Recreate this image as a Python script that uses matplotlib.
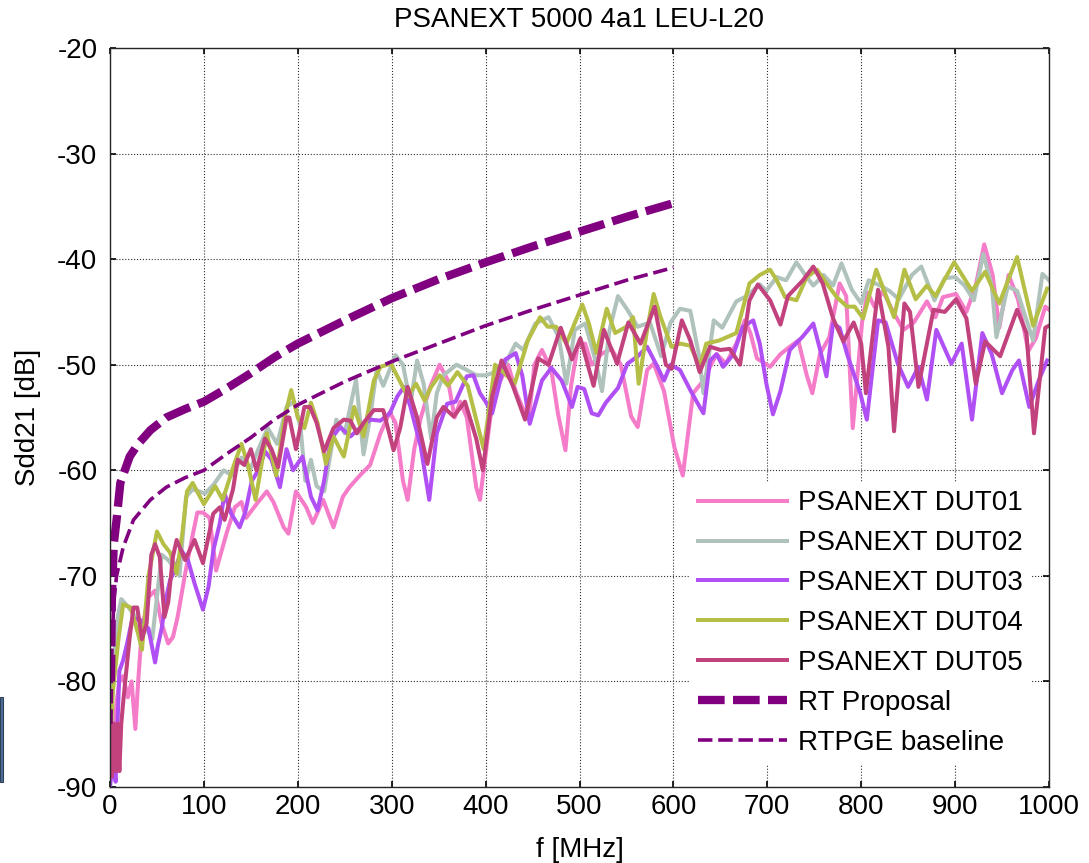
import matplotlib
matplotlib.use("Agg")
import matplotlib.pyplot as plt
from matplotlib.patches import Rectangle

plt.rcParams['font.family'] = ['Liberation Sans', 'DejaVu Sans']
plt.rcParams['axes.unicode_minus'] = False

# ---------------- data ----------------
title = "PSANEXT 5000 4a1 LEU-L20"
x_label = "f [MHz]"
y_label = "Sdd21 [dB]"
x_ticks = [0, 100, 200, 300, 400, 500, 600, 700, 800, 900, 1000]
y_ticks = [-90, -80, -70, -60, -50, -40, -30, -20]

labels = ["PSANEXT DUT01", "PSANEXT DUT02", "PSANEXT DUT03",
          "PSANEXT DUT04", "PSANEXT DUT05", "RT Proposal", "RTPGE baseline"]

f_dut01 = [0, 2, 7, 10, 14, 19, 23, 27, 30, 34, 41, 48, 55, 62, 67, 72, 80, 87, 93, 99,
           106, 113, 124, 133, 140, 145, 156, 167, 174, 185, 190, 198, 209, 216, 227, 238, 248, 255, 266, 277,
           288, 298, 304, 312, 317, 324, 331, 341, 351, 360, 367, 373, 380, 390, 394, 405, 414, 424, 432, 439,
           446, 452, 460, 470, 477, 485, 491, 498, 506, 513, 523, 534, 544, 555, 562, 572, 579, 590, 601, 610,
           621, 632, 639, 646, 656, 667, 676, 682, 689, 703, 714, 724, 733, 742, 748, 756, 766, 777, 784, 791,
           801, 807, 814, 823, 834, 845, 856, 870, 879, 887, 901, 912, 922, 931, 940, 947, 957, 967, 978, 986,
           996, 1000]
s_dut01 = [-88, -87, -82, -80, -79.5, -81.5, -80, -84.5, -80, -75, -72, -71.4, -74.5, -76.4, -75.8, -73.9, -69.8, -66.6, -64, -64,
           -64.5, -69.5, -66, -63.5, -63, -64.5, -63.2, -62, -63, -65.4, -66, -62, -63.5, -65, -62.8, -65.4, -62.5, -61.6, -60.5, -59.5,
           -56.5, -54.5, -55.5, -61, -62.8, -58, -55, -52.1, -50, -51.5, -55, -53.5, -55, -61.6, -62.8, -55, -51.8, -50, -52.5, -54,
           -55.2, -50, -48.6, -50.5, -54.6, -58.1, -52, -48.3, -48, -50, -49, -48.5, -50, -54.9, -55.9, -50.5, -49.9, -52.5, -57.8, -60.5,
           -52.7, -51.5, -50.2, -49, -49.9, -48, -45.8, -47, -49.4, -50.2, -49, -48.3, -47.7, -51, -52.7, -49, -47.4, -42.3, -43.5, -56,
           -45.9, -43.2, -44.5, -43, -45, -46.7, -46, -44, -45.5, -43.6, -43.3, -45, -42.5, -38.6, -41.5, -46.5, -41.5, -43.8, -48.7, -47.5,
           -44.5, -44.8]

f_dut02 = [0, 4, 8, 12, 20, 28, 37, 45, 50, 55, 62, 68, 74, 81, 88, 95, 101, 110, 121, 130,
           140, 149, 158, 168, 178, 188, 196, 203, 208, 214, 220, 228, 241, 250, 262, 270, 277, 284, 291, 304,
           312, 320, 327, 334, 342, 348, 355, 369, 380, 390, 400, 407, 421, 432, 440, 453, 467, 478, 486, 495,
           506, 517, 524, 532, 541, 551, 562, 575, 587, 597, 607, 618, 627, 632, 643, 652, 667, 678, 692, 699,
           710, 720, 731, 742, 749, 760, 770, 779, 790, 800, 808, 820, 830, 840, 854, 864, 878, 889, 900, 910,
           920, 930, 939, 944, 956, 966, 983, 993, 1000]
s_dut02 = [-87, -78, -74, -72.2, -73, -74, -74.7, -76, -72, -68, -68.5, -69.2, -70, -62.5, -61.8, -62, -62.2, -61.4, -60, -60.5,
           -58.8, -60, -58, -56, -57.5, -54, -53.5, -56, -61, -59, -61.5, -62, -55.2, -56.5, -51.4, -58.5, -55, -50.5, -52, -49.1,
           -50, -53.7, -49.6, -51.8, -57, -52.7, -51, -50, -50.5, -51, -51, -50.8, -49.9, -48, -48.6, -46.1, -45.5, -47.4, -51.8, -46.7,
           -46.1, -49.6, -52.5, -46.7, -43.5, -44.8, -46.4, -46, -49.2, -46, -44.7, -44.9, -49, -52.7, -45.8, -46.5, -44, -43.5, -42.4, -43,
           -41.7, -42, -40.3, -41.7, -42.5, -41.5, -42.5, -40.4, -42.9, -44.2, -42, -42.5, -43, -43.8, -41.5, -40.7, -43.9, -41.8, -41.7, -42.5,
           -43.9, -39.5, -42.5, -47.4, -42.6, -43, -47.7, -41.4, -42]

f_dut03 = [0, 3, 6, 8, 10, 14, 18, 23, 30, 36, 41, 48, 51, 55, 60, 64, 69, 76, 83, 90,
           99, 105, 110, 117, 122, 129, 138, 144, 151, 158, 165, 172, 181, 188, 195, 205, 214, 221, 228, 235,
           245, 256, 266, 277, 288, 298, 306, 313, 320, 331, 340, 348, 359, 368, 380, 387, 394, 400, 407, 421,
           432, 439, 447, 460, 470, 481, 492, 498, 505, 513, 520, 528, 541, 551, 562, 572, 583, 590, 597, 607,
           618, 628, 632, 639, 646, 653, 664, 674, 685, 692, 699, 706, 714, 724, 738, 749, 756, 763, 770, 777,
           785, 799, 806, 818, 826, 839, 850, 861, 870, 880, 889, 896, 907, 918, 929, 939, 950, 961, 968, 979,
           989, 998]
s_dut03 = [-90, -87.5, -89.5, -84, -79, -78, -76.5, -74.4, -74, -74.5, -75, -78.2, -76.6, -75, -72, -70.4, -69.5, -67.6, -68.5, -70.7,
           -73.2, -71, -67.6, -65, -62.2, -64.1, -65.4, -64, -61, -60, -58.2, -59, -61.6, -58, -60, -58.7, -62.5, -63.8, -61, -57.1,
           -55.9, -56.8, -56, -55.2, -55.3, -54.6, -53, -52.1, -54, -57.8, -62.8, -56.5, -53.7, -53.5, -51.1, -51, -52.7, -53.5, -54.6, -49.5,
           -48.9, -51, -55.6, -51.5, -50.3, -51.5, -54, -52.1, -52.3, -54.6, -54.8, -53.6, -52.2, -49.9, -49.2, -48.3, -50.2, -51.5, -50, -50.5,
           -52.4, -54, -54.6, -49.6, -49, -50.2, -49, -46.4, -45.8, -48, -51.8, -54.7, -52.5, -48.6, -47.3, -46.1, -48.5, -51.1, -46.1, -46.5,
           -49, -52.7, -55.2, -45.8, -46, -49.9, -52.1, -50.2, -53.3, -46.7, -48.5, -49.9, -48, -55.2, -47, -49, -52.7, -50.5, -49.6, -54,
           -51.5, -49.6]

f_dut04 = [0, 3, 9, 14, 22, 30, 34, 41, 50, 57, 64, 71, 77, 82, 88, 100, 112, 120, 132, 140,
           147, 155, 167, 177, 186, 193, 200, 207, 214, 221, 230, 238, 249, 260, 270, 281, 288, 299, 306, 317,
           326, 335, 342, 351, 360, 370, 381, 390, 398, 410, 420, 431, 445, 458, 466, 475, 486, 503, 510, 518,
           529, 538, 550, 557, 563, 572, 579, 586, 598, 607, 618, 628, 635, 649, 667, 681, 692, 703, 710, 719,
           731, 742, 753, 763, 774, 785, 793, 802, 816, 835, 846, 858, 870, 879, 899, 918, 932, 947, 966, 983,
           998]
s_dut04 = [-86.5, -81, -76, -72.7, -73, -75.5, -77, -70, -65.8, -67, -67.8, -69.8, -66, -62, -61.2, -63.2, -61.5, -62.8, -59.5, -57.5,
           -59.5, -62.8, -56.5, -60.5, -55, -52.4, -55, -56, -53.6, -55.5, -59.4, -56.8, -58.7, -54, -56.8, -51.5, -50.2, -49.9, -51.1, -53,
           -51.8, -53.4, -52.1, -51, -52, -50.7, -52, -55.2, -58, -50, -50.8, -51.8, -47.7, -45.5, -46.4, -46.4, -48, -44.3, -46.1, -48.9,
           -44.7, -47, -46.4, -45.5, -51.8, -46.7, -43.3, -45.4, -48.3, -48, -48.2, -50.2, -48, -47.7, -47, -42.3, -41.5, -41, -42, -43.6,
           -43.9, -41.7, -41, -42.3, -43.6, -44.5, -44.5, -45.6, -41, -45.5, -41, -43.8, -42.5, -43.5, -40.3, -43, -41.2, -44.2, -39.8, -46.3,
           -42.8]

f_dut05 = [0, 2, 4, 6, 8, 10, 12, 14, 16, 21, 25, 29, 34, 39, 44, 48, 53, 58, 62, 67,
           71, 80, 90, 99, 110, 117, 122, 131, 136, 143, 150, 156, 165, 172, 179, 188, 191, 198, 207, 213,
           220, 228, 238, 249, 256, 263, 270, 281, 291, 302, 309, 317, 327, 338, 348, 355, 366, 378, 390, 397,
           407, 417, 429, 442, 456, 467, 480, 492, 501, 515, 526, 540, 552, 565, 580, 592, 598, 609, 618, 628,
           639, 650, 660, 671, 681, 690, 703, 714, 722, 738, 749, 759, 770, 781, 792, 800, 805, 818, 829, 835,
           846, 852, 861, 877, 889, 901, 912, 922, 932, 948, 966, 976, 984, 996, 1000]
s_dut05 = [-84, -89, -84, -88.5, -84, -88.5, -84, -82, -80.2, -75.8, -73, -73, -76, -74.5, -68, -67, -68.2, -73.9, -72.5, -68.2,
           -66.6, -68.5, -66.6, -68.8, -64.1, -63.5, -64.7, -61.8, -59, -59.5, -58, -60, -57, -58, -59.7, -55, -55, -58, -54, -54,
           -55.5, -58.2, -56, -55.2, -55.3, -56.5, -55.5, -54.3, -54.3, -58.1, -56, -52.1, -55, -59.4, -55, -54, -54.9, -53.5, -57, -60,
           -53, -49.6, -52, -55.2, -49.4, -50, -46.5, -49.5, -47.5, -52, -46.7, -49.9, -46, -48, -44.5, -50, -50.4, -45.8, -47.7, -50.7,
           -48.3, -48.6, -48.5, -50, -43.9, -42.4, -43.9, -46.2, -43.5, -42, -40.7, -42.3, -45.6, -47.8, -46, -48, -52.7, -42.9, -48.3, -56.3,
           -44.2, -45, -52.1, -44.8, -45, -43.8, -45.6, -51.8, -47.8, -49.2, -44.8, -47, -56.5, -46.5, -46.3]

f_rt = [1, 2, 4, 7, 11, 21, 30, 43, 60, 80, 100, 125, 150, 175, 200, 250, 300, 350, 400, 450, 500, 550, 600]
s_rt = [-80, -72, -67, -64.7, -61.2, -58.7, -57.5, -56.2, -55, -54.2, -53.5, -52.2, -50.8, -49.3, -48.0, -45.8, -43.7, -41.9, -40.3, -38.8, -37.4, -36, -34.7]

f_base = [1, 2, 4, 7, 14, 25, 43, 60, 80, 100, 125, 150, 175, 200, 250, 300, 350, 400, 450, 500, 550, 600]
s_base = [-84, -77, -72.5, -70, -67.3, -64.7, -62.8, -61.6, -60.7, -60, -58.4, -56.9, -55.2, -53.8, -51.6, -49.7, -48, -46.3, -44.8, -43.4, -42, -40.8]

# ---------------- styling ----------------
colors = ['#F47CC8', '#AFC2BC', '#B050F4', '#B5BE45', '#C2427E']
ref_color = '#800080'
FS = 20

fig = plt.figure(figsize=(10.89, 8.63), dpi=100)
ax = fig.add_axes([110/1089, 1-787/863, 939/1089, 739/863])

series = [(f_dut01, s_dut01), (f_dut02, s_dut02), (f_dut03, s_dut03),
          (f_dut04, s_dut04), (f_dut05, s_dut05)]
for (fx, sy), c, lab in zip(series, colors, labels[:5]):
    ax.plot(fx, sy, color=c, lw=2.9, label=lab, solid_joinstyle='round')

ax.plot(f_rt, s_rt, color=ref_color, lw=6, dashes=(3.2, 1.0), label=labels[5])
ax.plot(f_base, s_base, color=ref_color, lw=2.6, dashes=(4.0, 1.6), label=labels[6])

ax.set_xlim(0, 1000)
ax.set_ylim(-90, -20)
ax.set_xticks(x_ticks)
ax.set_yticks(y_ticks)
ax.grid(True, linestyle=':', color='#303030', linewidth=0.8)
ax.set_axisbelow(True)
ax.tick_params(direction='in', length=4, width=1.2, top=True, right=True,
               labelsize=FS, pad=5, colors='black')
ax.tick_params(axis='y', pad=9)
for sp in ax.spines.values():
    sp.set_linewidth(1.0)
    sp.set_color('#262626')

ax.set_title(title, fontsize=FS, pad=15)
ax.set_xlabel(x_label, fontsize=FS)
ax.set_ylabel(y_label, fontsize=FS)
ax.xaxis.set_label_coords(0.5, -0.068)
ax.yaxis.set_label_coords(-0.074, 0.5)

leg = ax.legend(loc='upper left', bbox_to_anchor=(690/1089, 1-482/863),
                bbox_transform=fig.transFigure, fontsize=FS, frameon=True,
                fancybox=False, framealpha=1, edgecolor='white',
                handlelength=3.2, handletextpad=0.4, labelspacing=0.5,
                borderpad=0.3, borderaxespad=0)
leg.get_frame().set_linewidth(0)

# small blue-grey marker at the left edge of the picture
fig.add_artist(Rectangle((0, 1-782/863), 3/1089, 85/863, transform=fig.transFigure,
                         facecolor='#4B6F9A', edgecolor='#2F3F55', lw=0.8))

fig.savefig('out.png', dpi=100)
